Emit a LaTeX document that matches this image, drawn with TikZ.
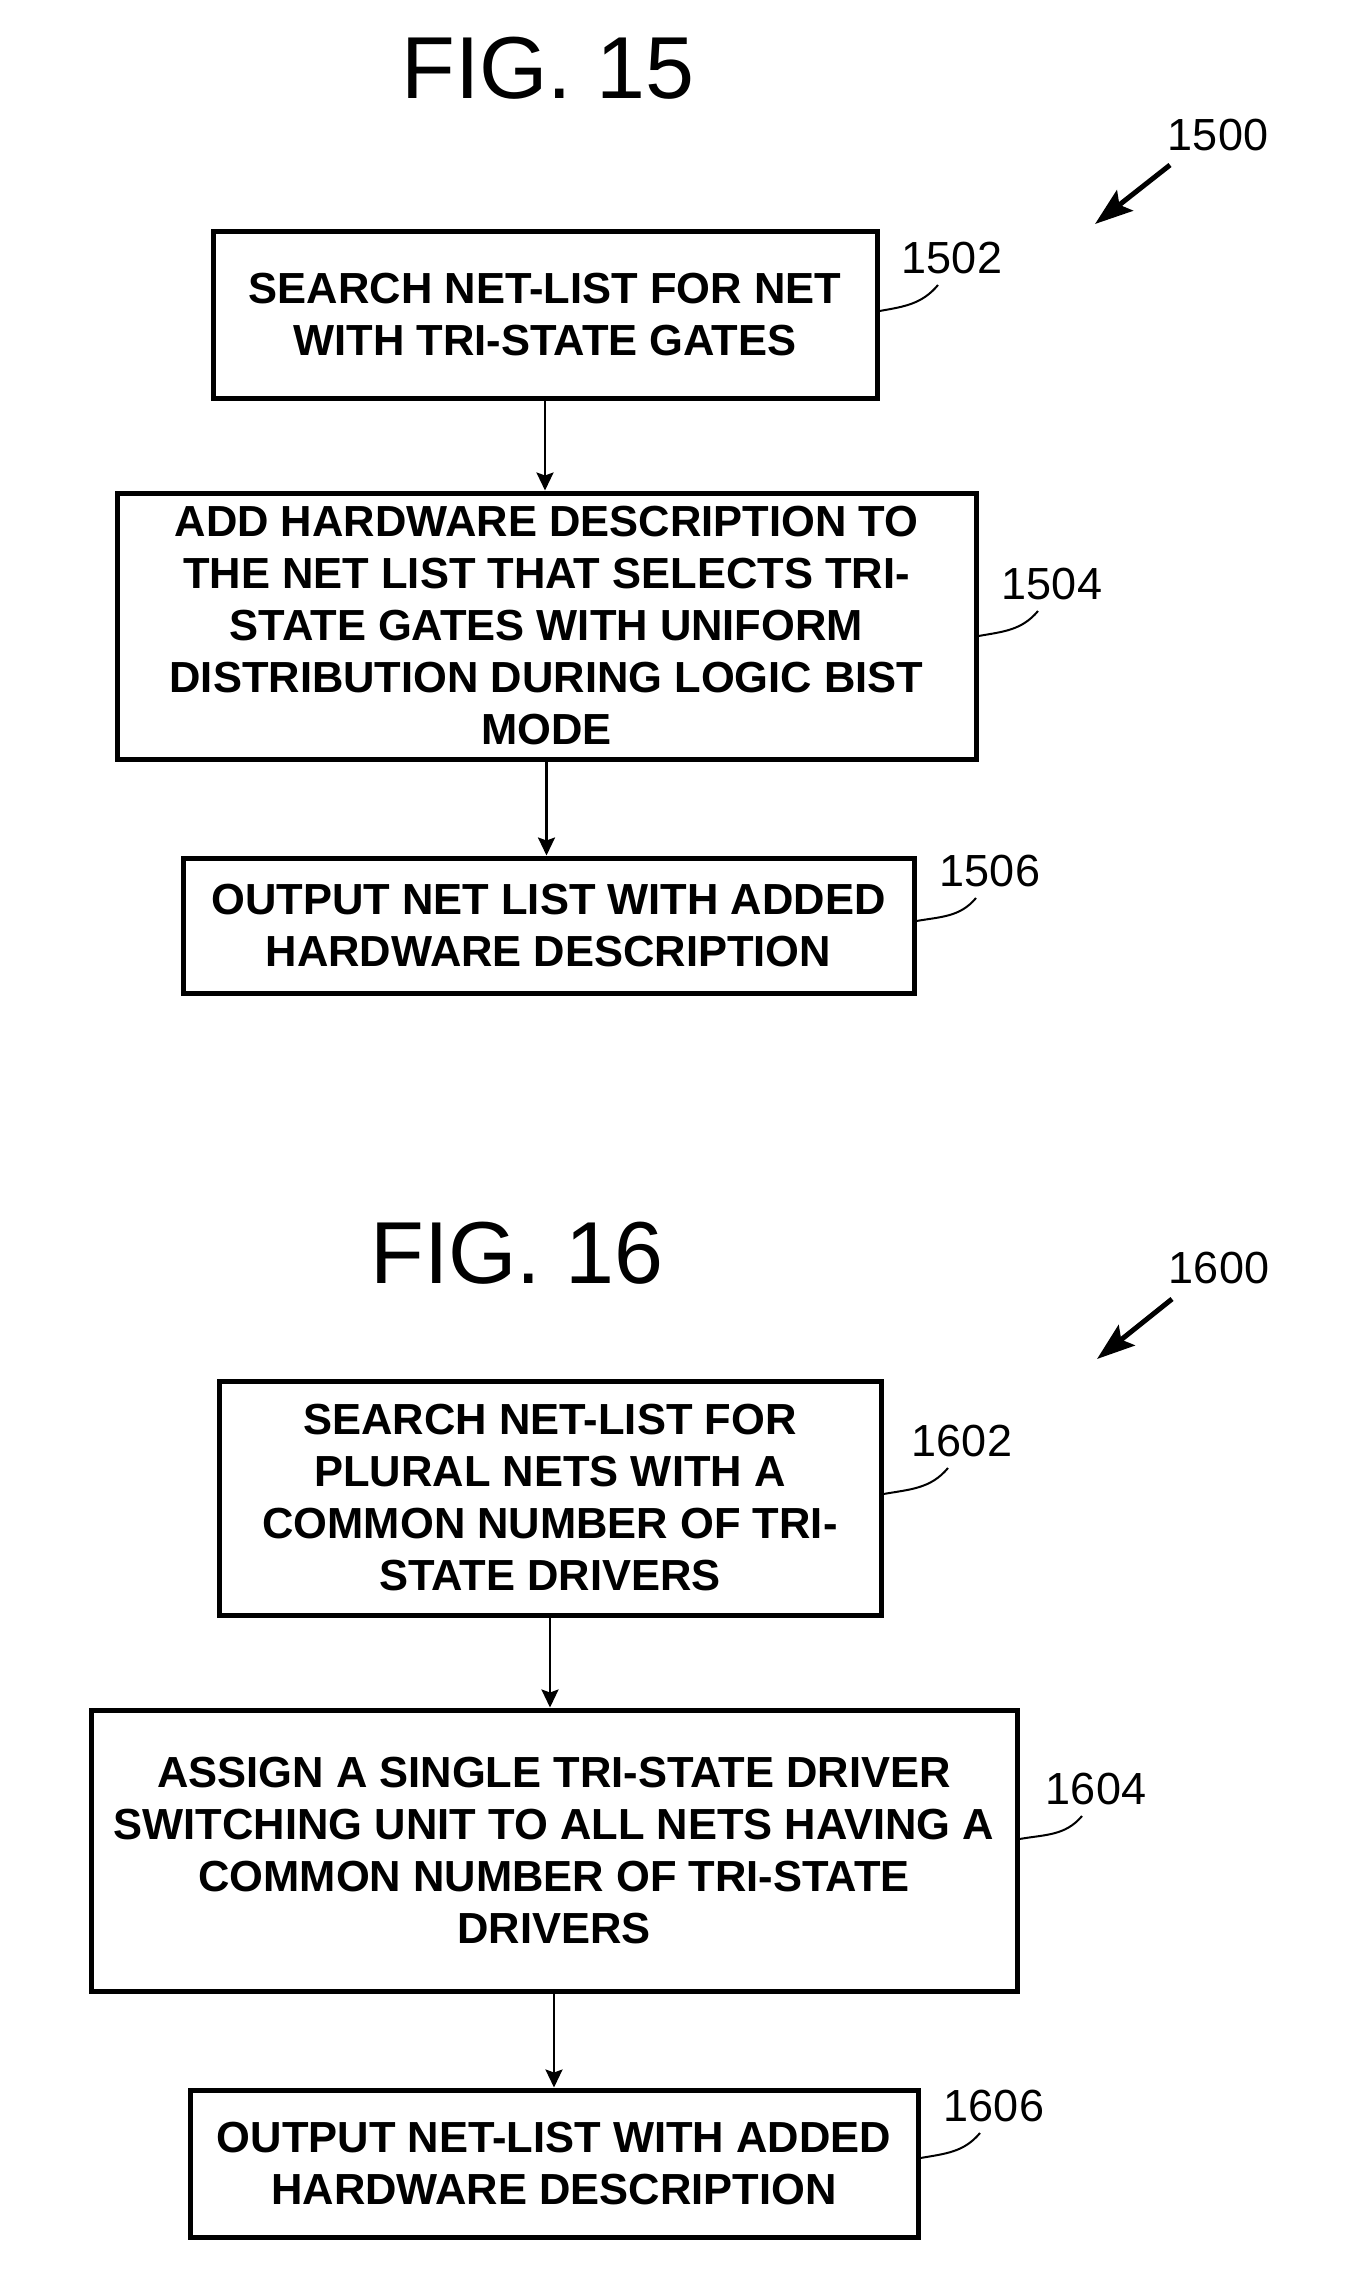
\documentclass[tikz,border=0pt]{standalone}
\usepackage{fontspec}
\setmainfont{Liberation Sans}
\usetikzlibrary{arrows.meta,calc}
\tikzset{
  stepbox/.style={draw, line width=5pt, inner sep=0pt, align=center,
    font=\bfseries\fontsize{43.5}{52}\selectfont},
  reflabel/.style={anchor=base, inner sep=0pt, font=\fontsize{45}{54}\selectfont},
  figtitle/.style={anchor=base, inner sep=0pt, font=\fontsize{88}{100}\selectfont},
  flow/.style={line width=2.5pt, -{Stealth[length=18pt,width=17pt,inset=3pt]}},
  bigarrow/.style={line width=5pt, -{Stealth[length=38pt,width=26pt,inset=7pt]}},
  leader/.style={line width=2pt},
}
\begin{document}
\begin{tikzpicture}[x=1pt,y=-1pt]
\useasboundingbox (0,0) rectangle (1358,2291);

% ---------------- FIG. 15 ----------------
\node[figtitle] (t15) at (548,99) {FIG. 15};
\node[reflabel] (l1500) at (1218,150) {1500};
\coordinate (s1500) at ($(l1500.base)+(-48,15)$);
\coordinate (e1500) at (1095,224);
\draw[bigarrow] (s1500) -- (e1500);

\node[stepbox, minimum width=664pt, minimum height=167pt] (b1502) at (545,314.5)
  {SEARCH NET-LIST FOR NET\\WITH TRI-STATE GATES};
\node[stepbox, minimum width=859pt, minimum height=266pt] (b1504) at (546.5,626)
  {ADD HARDWARE DESCRIPTION TO\\THE NET LIST THAT SELECTS TRI-\\STATE GATES WITH UNIFORM\\DISTRIBUTION DURING LOGIC BIST\\MODE};
\node[stepbox, minimum width=731pt, minimum height=135pt] (b1506) at (548.5,925.5)
  {OUTPUT NET LIST WITH ADDED\\HARDWARE DESCRIPTION};

\node[reflabel] (l1502) at (952,273) {1502};
\node[reflabel] (l1504) at (1052,599) {1504};
\node[reflabel] (l1506) at (990,886) {1506};

\draw[flow] (b1502.south) -- (b1502.south |- b1504.north);
\draw[flow] (b1504.south) -- (b1504.south |- b1506.north);

\draw[leader] ($(b1502.east)+(0,-3.5)$) to[out=10,in=-130] ($(l1502.base)+(-14,12)$);
\draw[leader] ($(b1504.east)+(0,10)$) to[out=10,in=-130] ($(l1504.base)+(-14,12)$);
\draw[leader] ($(b1506.east)+(0,-4.5)$) to[out=10,in=-130] ($(l1506.base)+(-14,12)$);

% ---------------- FIG. 16 ----------------
\node[figtitle] (t16) at (517,1283) {FIG. 16};
\node[reflabel] (l1600) at (1219,1283) {1600};
\coordinate (s1600) at ($(l1600.base)+(-47,16)$);
\coordinate (e1600) at (1097,1359);
\draw[bigarrow] (s1600) -- (e1600);

\node[stepbox, minimum width=662pt, minimum height=234pt] (b1602) at (550,1498)
  {SEARCH NET-LIST FOR\\PLURAL NETS WITH A\\COMMON NUMBER OF TRI-\\STATE DRIVERS};
\node[stepbox, minimum width=926pt, minimum height=281pt] (b1604) at (554,1850.5)
  {ASSIGN A SINGLE TRI-STATE DRIVER\\SWITCHING UNIT TO ALL NETS HAVING A\\COMMON NUMBER OF TRI-STATE\\DRIVERS};
\node[stepbox, minimum width=728pt, minimum height=147pt] (b1606) at (554,2163.5)
  {OUTPUT NET-LIST WITH ADDED\\HARDWARE DESCRIPTION};

\node[reflabel] (l1602) at (962,1456) {1602};
\node[reflabel] (l1604) at (1096,1804) {1604};
\node[reflabel] (l1606) at (994,2121) {1606};

\draw[flow] (b1602.south) -- (b1602.south |- b1604.north);
\draw[flow] (b1604.south) -- (b1604.south |- b1606.north);

\draw[leader] ($(b1602.east)+(0,-4)$) to[out=10,in=-130] ($(l1602.base)+(-14,12)$);
\draw[leader] ($(b1604.east)+(0,-11.5)$) to[out=10,in=-130] ($(l1604.base)+(-14,12)$);
\draw[leader] ($(b1606.east)+(0,-5.5)$) to[out=10,in=-130] ($(l1606.base)+(-14,12)$);
\end{tikzpicture}
\end{document}
